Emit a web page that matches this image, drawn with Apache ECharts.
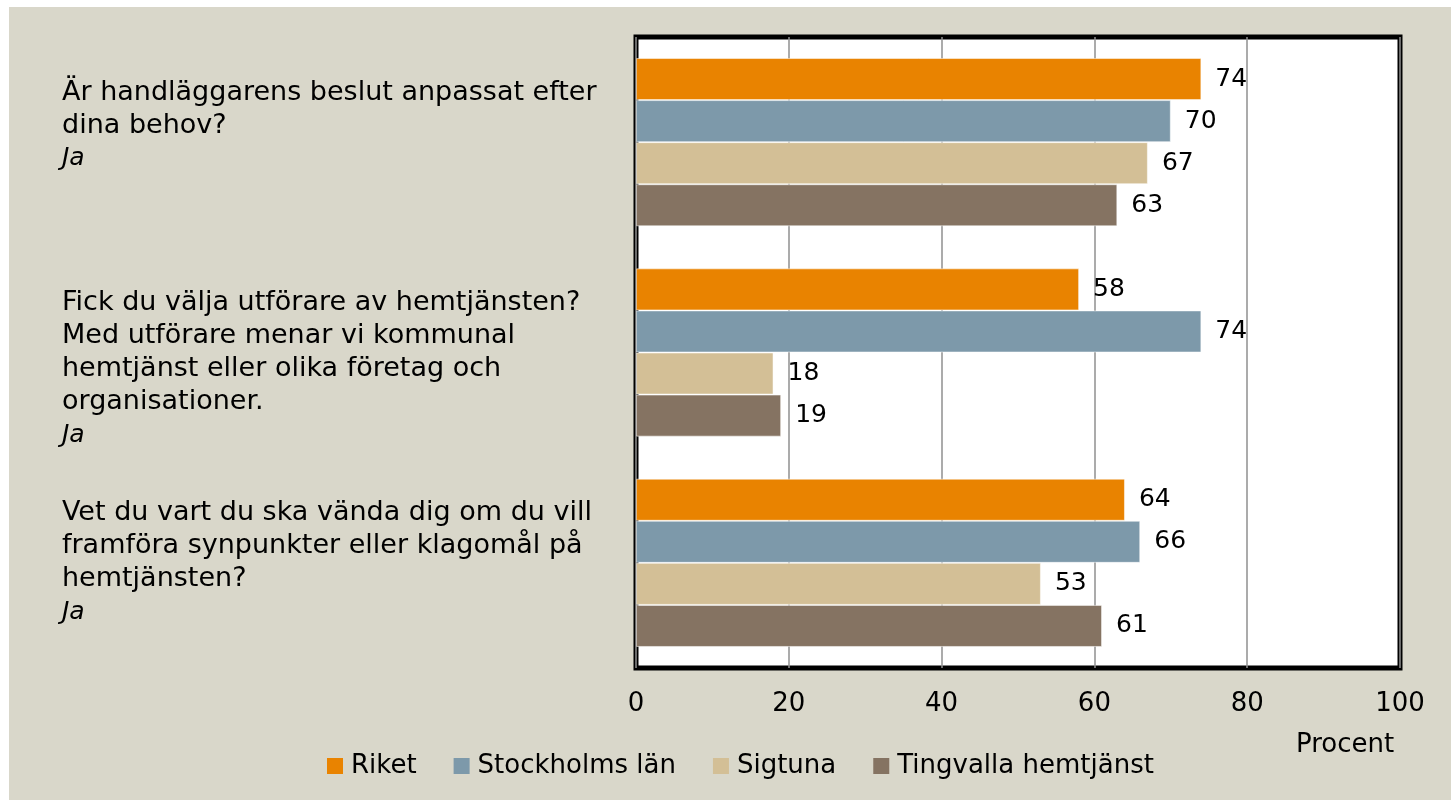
<!DOCTYPE html>
<html>
<head>
<meta charset="utf-8">
<title>Hemtjänst</title>
<script src="https://cdn.jsdelivr.net/npm/echarts@6/dist/echarts.min.js"></script>
</head>
<body style="margin:0;padding:0;background:#fff;">
<div id="main" style="position:absolute;left:9px;top:7px;width:1442px;height:793px;"></div>
<script>
var questions = [
    'Är handläggarens beslut anpassat efter\ndina behov?\n{ja|Ja}\n',
    '\nFick du välja utförare av hemtjänsten?\nMed utförare menar vi kommunal\nhemtjänst eller olika företag och\norganisationer.\n{ja|Ja}',
    'Vet du vart du ska vända dig om du vill\nframföra synpunkter eller klagomål på\nhemtjänsten?\n{ja|Ja}'
];
var seriesNames = ['Riket', 'Stockholms län', 'Sigtuna', 'Tingvalla hemtjänst'];
var riket = [74, 58, 64];
var stockholm = [70, 74, 66];
var sigtuna = [67, 18, 53];
var tingvalla = [63, 19, 61];
var colors = ['#e98300', '#7d99aa', '#d3bf96', '#857362'];

var font = 'DejaVu Sans';
var chart = echarts.init(document.getElementById('main'));

var values = [riket, stockholm, sigtuna, tingvalla];
var series = seriesNames.map(function (name, i) {
    return {
        name: name,
        type: 'bar',
        data: values[i],
        barGap: '0%',
        barCategoryGap: '20%',
        itemStyle: { color: colors[i], borderColor: 'rgba(255,255,255,0.5)', borderWidth: 1 },
        label: {
            show: true,
            position: 'right',
            distance: 14,
            color: '#000',
            fontFamily: font,
            fontSize: 25
        }
    };
});

var option = {
    backgroundColor: '#d9d7ca',
    color: colors,
    animation: false,
    textStyle: { fontFamily: font },
    grid: {
        left: 627, right: 51, top: 30, bottom: 132,
        show: true,
        backgroundColor: '#fff',
        borderColor: '#000',
        borderWidth: 5
    },
    xAxis: {
        type: 'value',
        min: 0,
        max: 100,
        interval: 20,
        axisLine: { show: false },
        axisTick: { show: false },
        splitLine: { lineStyle: { color: '#8f8f8f', width: 1.5 } },
        axisLabel: { color: '#000', fontFamily: font, fontSize: 26, margin: 23 }
    },
    yAxis: {
        type: 'category',
        inverse: true,
        data: questions,
        axisLine: { show: false },
        axisTick: { show: false },
        axisLabel: {
            align: 'left',
            margin: 574,
            color: '#000',
            fontFamily: font,
            fontSize: 27,
            lineHeight: 33,
            rich: {
                ja: { fontStyle: 'italic', fontFamily: font, fontSize: 25, lineHeight: 33, color: '#000' }
            }
        }
    },
    legend: {
        data: seriesNames,
        left: 313,
        top: 741,
        icon: 'rect',
        itemWidth: 16,
        itemHeight: 16,
        itemGap: 37,
        itemStyle: { borderWidth: 0 },
        textStyle: { color: '#000', fontFamily: font, fontSize: 26, padding: [0, 0, 0, 3] }
    },
    title: {
        text: 'Procent',
        left: 1282,
        top: 720,
        textStyle: { color: '#000', fontFamily: font, fontSize: 26, fontWeight: 'normal' }
    },
    series: series
};
chart.setOption(option);
</script>
</body>
</html>
